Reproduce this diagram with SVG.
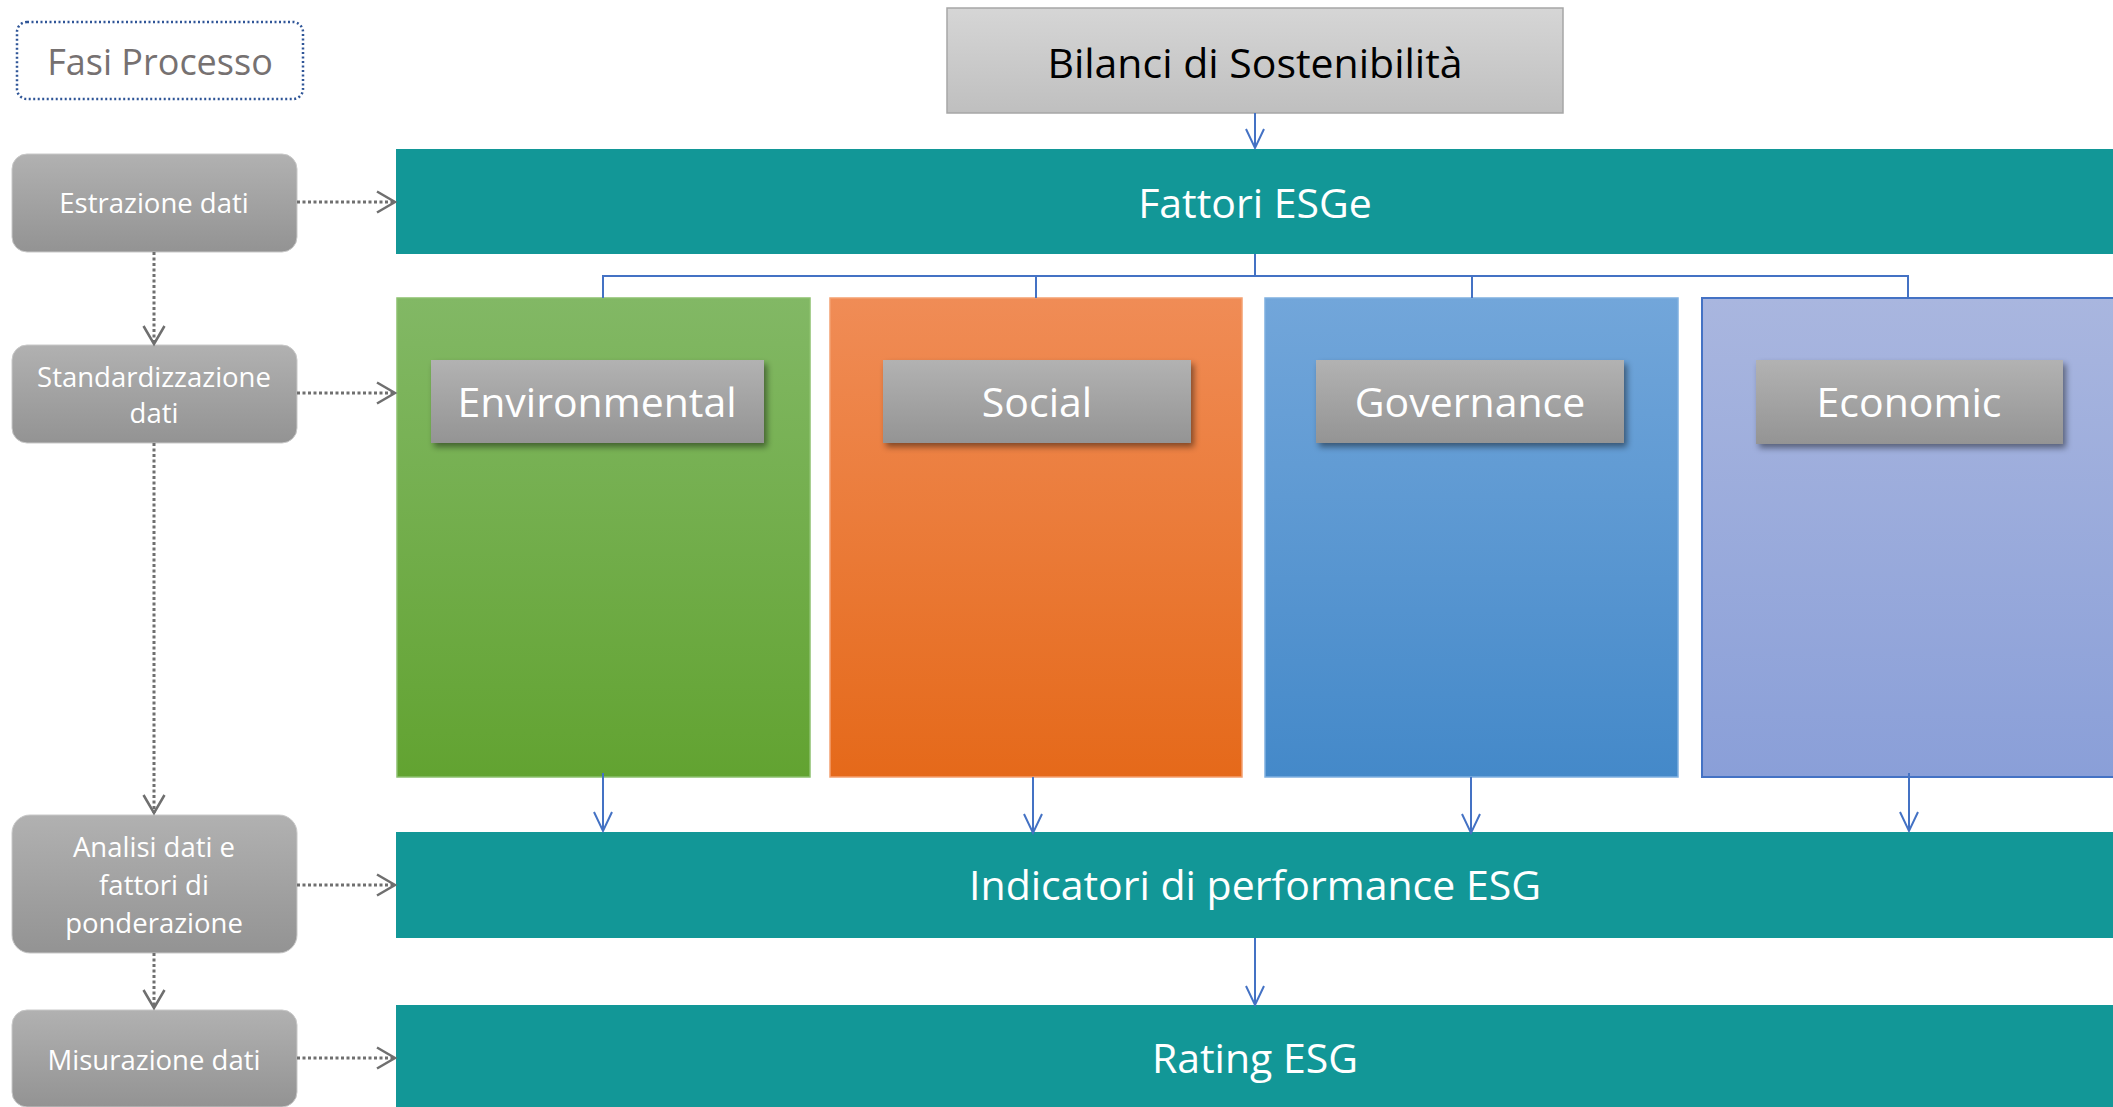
<svg xmlns="http://www.w3.org/2000/svg" width="2113" height="1107" viewBox="0 0 2113 1107">
<defs>
<style>
text{font-family:"Open Sans","Noto Sans","DejaVu Sans",sans-serif;text-anchor:middle}
.phase{fill:url(#gPhase);stroke:#c8c8c8;stroke-width:1}
.ptxt{fill:#ffffff;font-size:27.5px}
.teal{fill:#129797}
.ttxt{fill:#ffffff;font-size:41px}
.lab{fill:url(#gLab);filter:url(#sh)}
.ltxt{fill:#ffffff;font-size:41px}
.dot{fill:none;stroke:#6f6f6f;stroke-width:3;stroke-dasharray:3 2.5;marker-end:url(#mGray)}
.blue{fill:none;stroke:#4472C4;stroke-width:2}
.barrow{fill:none;stroke:#4472C4;stroke-width:2;marker-end:url(#mBlue)}
</style>
<linearGradient id="gPhase" x1="0" y1="0" x2="0" y2="1"><stop offset="0" stop-color="#b1b1b1"/><stop offset="1" stop-color="#939393"/></linearGradient>
<linearGradient id="gLab" x1="0" y1="0" x2="0" y2="1"><stop offset="0" stop-color="#b2b2b2"/><stop offset="1" stop-color="#949494"/></linearGradient>
<linearGradient id="gBil" x1="0" y1="0" x2="0" y2="1"><stop offset="0" stop-color="#d6d6d6"/><stop offset="1" stop-color="#bfbfbf"/></linearGradient>
<linearGradient id="gEnv" x1="0" y1="0" x2="0" y2="1"><stop offset="0" stop-color="#82b865"/><stop offset="1" stop-color="#62a331"/></linearGradient>
<linearGradient id="gSoc" x1="0" y1="0" x2="0" y2="1"><stop offset="0" stop-color="#f08c56"/><stop offset="1" stop-color="#e5691a"/></linearGradient>
<linearGradient id="gGov" x1="0" y1="0" x2="0" y2="1"><stop offset="0" stop-color="#72a6da"/><stop offset="1" stop-color="#4489c9"/></linearGradient>
<linearGradient id="gEco" x1="0" y1="0" x2="0" y2="1"><stop offset="0" stop-color="#a9b6df"/><stop offset="1" stop-color="#8a9fd8"/></linearGradient>
<filter id="sh" x="-10%" y="-20%" width="125%" height="150%"><feDropShadow dx="3" dy="4" stdDeviation="3" flood-color="#000" flood-opacity="0.45"/></filter>
<marker id="mGray" markerUnits="userSpaceOnUse" markerWidth="22" markerHeight="24" refX="18" refY="10.5" orient="auto" overflow="visible"><path d="M0,0 L18,10.5 L0,21" fill="none" stroke="#6f6f6f" stroke-width="2.5"/></marker>
<marker id="mBlue" markerUnits="userSpaceOnUse" markerWidth="22" markerHeight="22" refX="19" refY="9" orient="auto" overflow="visible"><path d="M0,0 L19,9 L0,18" fill="none" stroke="#4472C4" stroke-width="2"/></marker>
</defs>

<g id="fasi-processo">
<rect x="17" y="22" width="286" height="77" rx="10" fill="#ffffff" stroke="#2F5597" stroke-width="2.5" stroke-dasharray="2 2.5"/>
<text x="160" y="75" style="fill:#767171;font-size:36px">Fasi Processo</text>
</g>

<g id="estrazione">
<rect class="phase" x="12" y="154" width="285" height="98" rx="15"/>
<text class="ptxt" x="154" y="213">Estrazione dati</text>
</g>
<g id="standardizzazione">
<rect class="phase" x="12" y="345" width="285" height="98" rx="15"/>
<text class="ptxt" x="154" y="387">Standardizzazione</text>
<text class="ptxt" x="154" y="423">dati</text>
</g>
<g id="analisi">
<rect class="phase" x="12" y="815" width="285" height="138" rx="18"/>
<text class="ptxt" x="154" y="857">Analisi dati e</text>
<text class="ptxt" x="154" y="895">fattori di</text>
<text class="ptxt" x="154" y="933">ponderazione</text>
</g>
<g id="misurazione">
<rect class="phase" x="12" y="1010" width="285" height="97" rx="15"/>
<text class="ptxt" x="154" y="1070">Misurazione dati</text>
</g>

<g id="bilanci">
<rect x="947" y="8" width="616" height="105" fill="url(#gBil)" stroke="#a6a6a6" stroke-width="1.5"/>
<text x="1255" y="78" style="fill:#000000;font-size:41px">Bilanci di Sostenibilità</text>
</g>

<g id="fattori">
<rect class="teal" x="396" y="149" width="1717" height="105"/>
<text class="ttxt" x="1255" y="218">Fattori ESGe</text>
</g>

<g id="environmental">
<rect x="397" y="298" width="413" height="479" fill="url(#gEnv)" stroke="#8cc06e" stroke-width="1.5"/>
<rect class="lab" x="431" y="360" width="333" height="83"/>
<text class="ltxt" x="597" y="417">Environmental</text>
</g>
<g id="social">
<rect x="830" y="298" width="412" height="479" fill="url(#gSoc)" stroke="#f4a070" stroke-width="1.5"/>
<rect class="lab" x="883" y="360" width="308" height="83"/>
<text class="ltxt" x="1037" y="417">Social</text>
</g>
<g id="governance">
<rect x="1265" y="298" width="413" height="479" fill="url(#gGov)" stroke="#7fb0e0" stroke-width="1.5"/>
<rect class="lab" x="1316" y="360" width="308" height="83"/>
<text class="ltxt" x="1470" y="417">Governance</text>
</g>
<g id="economic">
<rect x="1702" y="298" width="420" height="479" fill="url(#gEco)" stroke="#4472C4" stroke-width="2"/>
<rect class="lab" x="1756" y="360" width="307" height="84"/>
<text class="ltxt" x="1909" y="417">Economic</text>
</g>

<g id="indicatori">
<rect class="teal" x="396" y="832" width="1717" height="106"/>
<text class="ttxt" x="1255" y="900">Indicatori di performance ESG</text>
</g>

<g id="rating">
<rect class="teal" x="396" y="1005" width="1717" height="102"/>
<text class="ttxt" x="1255" y="1073">Rating ESG</text>
</g>

<g id="connectors">
<line class="dot" x1="297" y1="202" x2="395" y2="202"/>
<line class="dot" x1="297" y1="393" x2="395" y2="393"/>
<line class="dot" x1="297" y1="885" x2="395" y2="885"/>
<line class="dot" x1="297" y1="1058" x2="395" y2="1058"/>
<line class="dot" x1="154" y1="252" x2="154" y2="344"/>
<line class="dot" x1="154" y1="443" x2="154" y2="813"/>
<line class="dot" x1="154" y1="953" x2="154" y2="1008"/>
<line class="barrow" x1="1255" y1="113" x2="1255" y2="148"/>
<path class="blue" d="M1255,254 V276 M603,298 V276 H1908 V298 M1036,276 V298 M1472,276 V298"/>
<line class="barrow" x1="603" y1="773" x2="603" y2="831"/>
<line class="barrow" x1="1033" y1="777" x2="1033" y2="833"/>
<line class="barrow" x1="1471" y1="777" x2="1471" y2="833"/>
<line class="barrow" x1="1909" y1="773" x2="1909" y2="831"/>
<line class="barrow" x1="1255" y1="938" x2="1255" y2="1005"/>
</g>
</svg>
